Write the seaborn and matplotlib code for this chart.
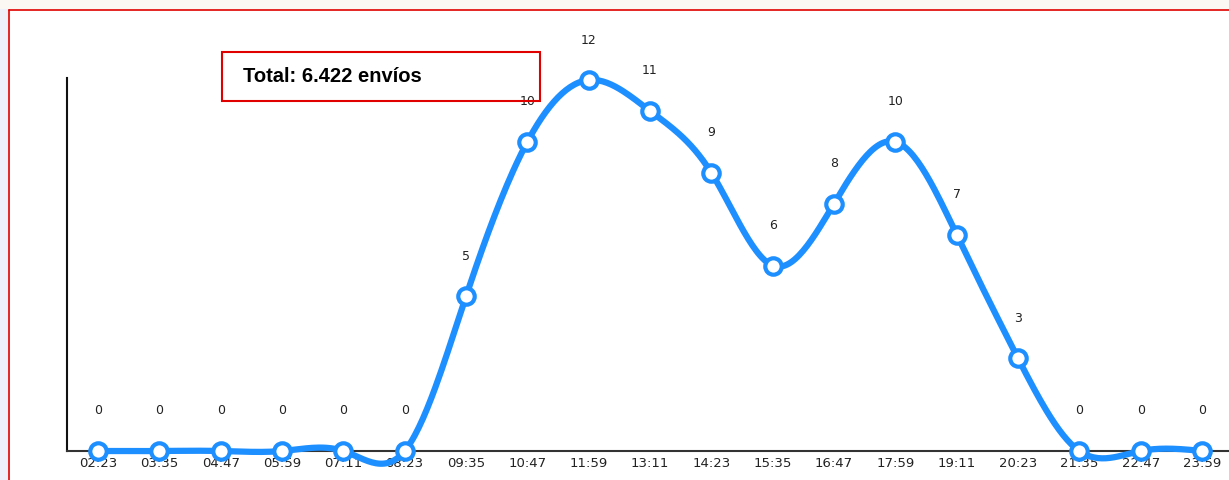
import numpy as np
import pandas as pd
import matplotlib
matplotlib.use("Agg")
import matplotlib.pyplot as plt
from matplotlib.patches import Rectangle
from matplotlib.lines import Line2D
import seaborn as sns

# hourly slots and shipments per slot
horas = ["02:23", "03:35", "04:47", "05:59", "07:11", "08:23", "09:35", "10:47",
         "11:59", "13:11", "14:23", "15:35", "16:47", "17:59", "19:11", "20:23",
         "21:35", "22:47", "23:59"]
envios = [0, 0, 0, 0, 0, 0, 5, 10, 12, 11, 9, 6, 8, 10, 7, 3, 0, 0, 0]
total_txt = "Total: 6.422 envíos"

AZUL = "#1e8fff"
ROJO = "#e00000"


def natural_spline(y, n=30):
    # natural cubic spline through equally spaced points (like d3.curveNatural)
    y = np.asarray(y, float)
    m = len(y)
    A = np.zeros((m, m))
    b = np.zeros(m)
    A[0, 0] = A[-1, -1] = 1
    for i in range(1, m - 1):
        A[i, i - 1] = 1
        A[i, i] = 4
        A[i, i + 1] = 1
        b[i] = 6 * (y[i - 1] - 2 * y[i] + y[i + 1])
    M = np.linalg.solve(A, b)
    xs, ys = [], []
    for i in range(m - 1):
        t = np.linspace(0, 1, n, endpoint=(i == m - 2))
        u = 1 - t
        seg = u * y[i] + t * y[i + 1] + (u**3 - u) * M[i] / 6 + (t**3 - t) * M[i + 1] / 6
        xs.append(i + t)
        ys.append(seg)
    return np.concatenate(xs), np.concatenate(ys)


sns.set_style("white")
plt.rcParams["font.family"] = ["DejaVu Sans"]

W, H = 1229, 480
fig = plt.figure(figsize=(W / 100, H / 100), dpi=100)
fig.patch.set_facecolor("white")

# page decoration: left strip, top strip, red frame lines
fig.add_artist(Rectangle((0, 0), 8 / W, 1, transform=fig.transFigure,
                         facecolor="#eef0fa", edgecolor="none", zorder=0))
fig.add_artist(Rectangle((0, 1 - 9 / H), 1, 9 / H, transform=fig.transFigure,
                         facecolor="#fbf8f3", edgecolor="none", zorder=0))
fig.add_artist(Line2D([9 / W, 9 / W], [0, 1 - 10 / H], transform=fig.transFigure,
                      color=ROJO, lw=1.2))
fig.add_artist(Line2D([9 / W, 1], [1 - 10 / H, 1 - 10 / H], transform=fig.transFigure,
                      color=ROJO, lw=1.2))

ax = fig.add_axes([67 / W, 29 / H, (W - 67) / W, 373 / H])

idx = np.arange(len(envios))
xs, ys = natural_spline(envios)
curva = pd.DataFrame({"x": xs, "y": ys})
sns.lineplot(data=curva, x="x", y="y", ax=ax, color=AZUL, lw=4.5,
             sort=False, estimator=None, zorder=3)
for ln in ax.get_lines():
    ln.set_clip_on(False)
    ln.set_solid_capstyle("round")

puntos = pd.DataFrame({"x": idx, "y": envios})
sns.scatterplot(data=puntos, x="x", y="y", ax=ax, s=140, color="white",
                edgecolor=AZUL, linewidth=3.0, zorder=4, clip_on=False)

for i, v in zip(idx, envios):
    ax.annotate(str(v), (i, v), xytext=(0, 40), textcoords="offset pixels",
                ha="center", va="center", fontsize=9, color="#222222",
                annotation_clip=False)

ax.set_xlim(-(98 - 67) / 61.33, 18 + (W - 1202) / 61.33)
ax.set_ylim(0, 12 * 373 / 371)
ax.set_xticks(idx)
ax.set_xticklabels(horas, fontsize=9.5, color="#222222")
ax.set_yticks([])
ax.tick_params(axis="x", length=0, pad=4)
ax.set_xlabel("")
ax.set_ylabel("")
for s in ["top", "right"]:
    ax.spines[s].set_visible(False)
ax.spines["left"].set_color("#111111")
ax.spines["left"].set_linewidth(1.5)
ax.spines["bottom"].set_color("#333333")
ax.spines["bottom"].set_linewidth(1.5)
ax.patch.set_alpha(0)

# total box (outline only, the "10" label peeks out under it)
fig.add_artist(Rectangle((222 / W, 1 - 101 / H), 318 / W, 49 / H,
                         transform=fig.transFigure, facecolor="none",
                         edgecolor=ROJO, lw=1.5, zorder=5))
fig.text(243 / W, 1 - 77 / H, total_txt, fontsize=14.5, fontweight="bold",
         family=["Liberation Sans", "DejaVu Sans"], ha="left", va="center",
         color="black", zorder=6)

fig.savefig("out.png", dpi=100)
